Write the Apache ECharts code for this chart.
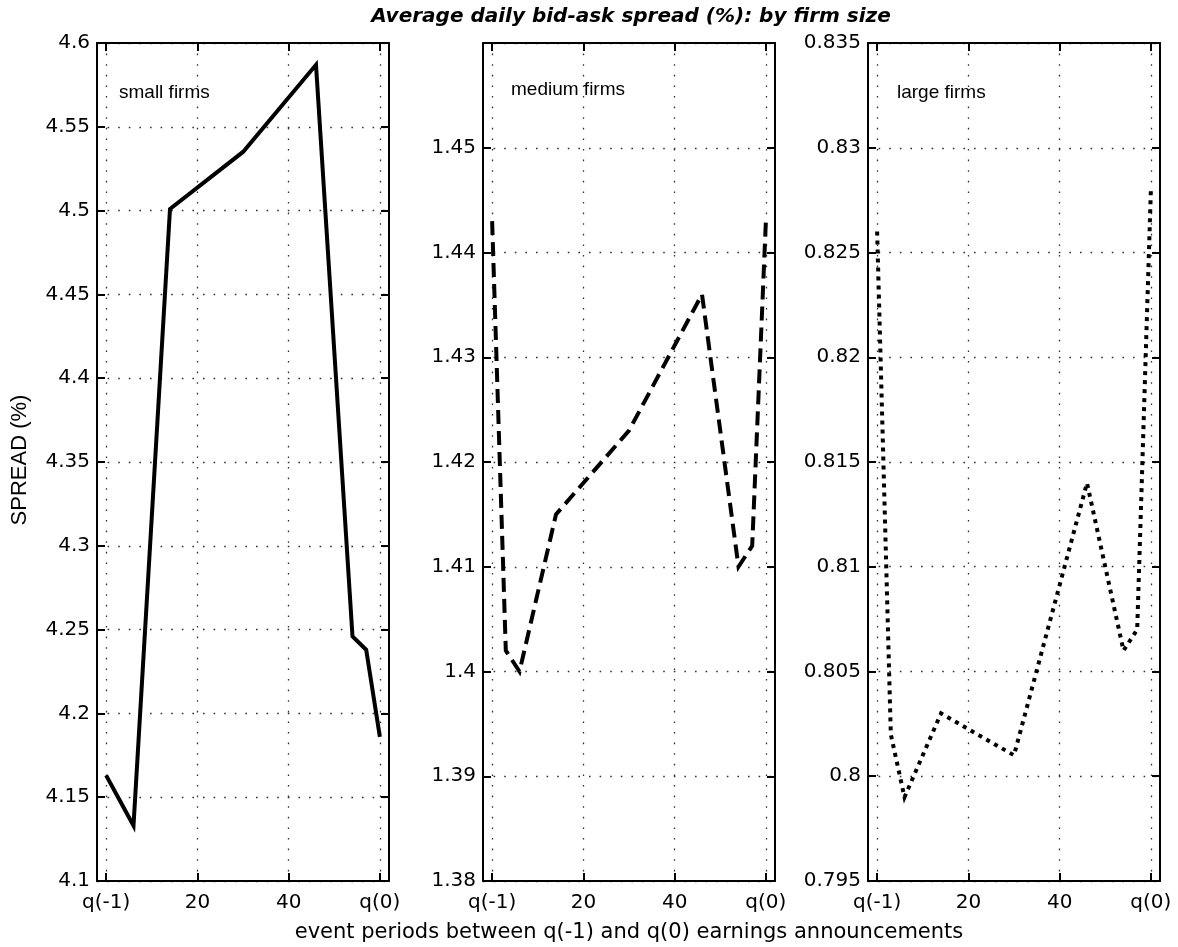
<!DOCTYPE html>
<html>
<head>
<meta charset="utf-8">
<title>Average daily bid-ask spread by firm size</title>
<script src="https://cdn.jsdelivr.net/npm/echarts@6/dist/echarts.min.js"></script>
<style>
  html, body { margin: 0; padding: 0; background: #fff; }
  #chart { width: 1178px; height: 947px; }
</style>
</head>
<body>
<div id="chart"></div>
<script>
// Event periods between the q(-1) and q(0) earnings announcements
const periods = [0, 3, 6, 14, 30, 46, 54, 57, 60];
// Average daily bid-ask spread (%) per firm-size group
const smallFirms  = [4.163, 4.148, 4.133, 4.501, 4.535, 4.587, 4.246, 4.238, 4.186];
const mediumFirms = [1.443, 1.402, 1.400, 1.415, 1.423, 1.436, 1.410, 1.412, 1.443];
const largeFirms  = [0.826, 0.802, 0.799, 0.803, 0.801, 0.814, 0.806, 0.807, 0.828];

const panelNames = ['small firms', 'medium firms', 'large firms'];
const xTickValues = [0, 20, 40, 60];
const xTickLabels = { 0: 'q(-1)', 20: '20', 40: '40', 60: 'q(0)' };
const yRanges = [
  { min: 4.1,   max: 4.6,   step: 0.05 },
  { min: 1.38,  max: 1.46,  step: 0.01 },
  { min: 0.795, max: 0.835, step: 0.005 }
];

const FONT = '"DejaVu Sans", Verdana, sans-serif';
const FONT_NARROW = '"Liberation Sans", Arial, Helvetica, sans-serif';
const gridLefts = [97, 483, 868];
const gridWidth = 292;
const gridTop = 43;
const gridHeight = 838;

const gridLine = { show: true, lineStyle: { color: '#333', width: 1.3, type: [1.6, 9] } };
const frameLine = { show: true, onZero: false, lineStyle: { color: '#000', width: 2 } };
const tickStyle = { color: '#000', width: 2 };

const grids = [], xAxes = [], yAxes = [], series = [];
const seriesData = [smallFirms, mediumFirms, largeFirms];
const lineTypes = ['solid', [14, 7], [4, 5]];

for (let i = 0; i < 3; i++) {
  grids.push({ left: gridLefts[i], top: gridTop, width: gridWidth, height: gridHeight, containLabel: false });

  // bottom x axis with labels and dotted grid
  xAxes.push({
    type: 'value', gridIndex: i, position: 'bottom', min: -2, max: 62,
    axisLine: frameLine,
    axisTick: { show: true, inside: true, length: 8, customValues: xTickValues, lineStyle: tickStyle },
    axisLabel: {
      show: true, customValues: xTickValues, margin: 12,
      formatter: v => xTickLabels[v] !== undefined ? xTickLabels[v] : '',
      color: '#000', fontSize: 20, fontFamily: FONT
    },
    splitLine: gridLine
  });
  // top frame edge with inward ticks
  xAxes.push({
    type: 'value', gridIndex: i, position: 'top', min: -2, max: 62,
    axisLine: frameLine,
    axisTick: { show: true, inside: true, length: 8, customValues: xTickValues, lineStyle: tickStyle },
    axisLabel: { show: false },
    splitLine: { show: false }
  });

  const r = yRanges[i];
  yAxes.push({
    type: 'value', gridIndex: i, position: 'left', min: r.min, max: r.max, interval: r.step,
    axisLine: frameLine,
    axisTick: { show: true, inside: true, length: 8, lineStyle: tickStyle },
    axisLabel: {
      show: true, margin: 7, color: '#000', fontSize: 20, fontFamily: FONT,
      showMaxLabel: i !== 1
    },
    splitLine: gridLine
  });
  // right frame edge with inward ticks
  yAxes.push({
    type: 'value', gridIndex: i, position: 'right', min: r.min, max: r.max, interval: r.step,
    axisLine: frameLine,
    axisTick: { show: true, inside: true, length: 8, lineStyle: tickStyle },
    axisLabel: { show: false },
    splitLine: { show: false }
  });

  series.push({
    name: panelNames[i],
    type: 'line',
    xAxisIndex: i * 2,
    yAxisIndex: i * 2,
    data: periods.map((p, k) => [p, seriesData[i][k]]),
    showSymbol: false,
    symbol: 'none',
    animation: false,
    lineStyle: { color: '#000', width: 4, type: lineTypes[i], cap: 'butt', join: 'miter' }
  });
}

const texts = [
  { text: 'Average daily bid-ask spread (%): by firm size', x: 631, y: 17, align: 'center',
    font: 'italic bold 20px ' + FONT },
  { text: 'event periods between q(-1) and q(0) earnings announcements', x: 629, y: 933, align: 'center',
    font: '21px ' + FONT },
  { text: 'small firms', x: 119, y: 93, align: 'left', font: '19px ' + FONT_NARROW },
  { text: 'medium firms', x: 511, y: 90, align: 'left', font: '19px ' + FONT_NARROW },
  { text: 'large firms', x: 897, y: 93, align: 'left', font: '19px ' + FONT_NARROW }
];

const graphic = texts.map(t => ({
  type: 'text', silent: true,
  style: { text: t.text, x: t.x, y: t.y, align: t.align, verticalAlign: 'middle', font: t.font, fill: '#000' }
}));
graphic.push({
  type: 'text', silent: true, x: 20, y: 460, rotation: Math.PI / 2,
  style: { text: 'SPREAD (%)', x: 0, y: 0, align: 'center', verticalAlign: 'middle', font: '22px ' + FONT_NARROW, fill: '#000' }
});

const chart = echarts.init(document.getElementById('chart'), null, { renderer: 'canvas' });
chart.setOption({
  backgroundColor: '#fff',
  animation: false,
  grid: grids,
  xAxis: xAxes,
  yAxis: yAxes,
  series: series,
  graphic: graphic
});
</script>
</body>
</html>
